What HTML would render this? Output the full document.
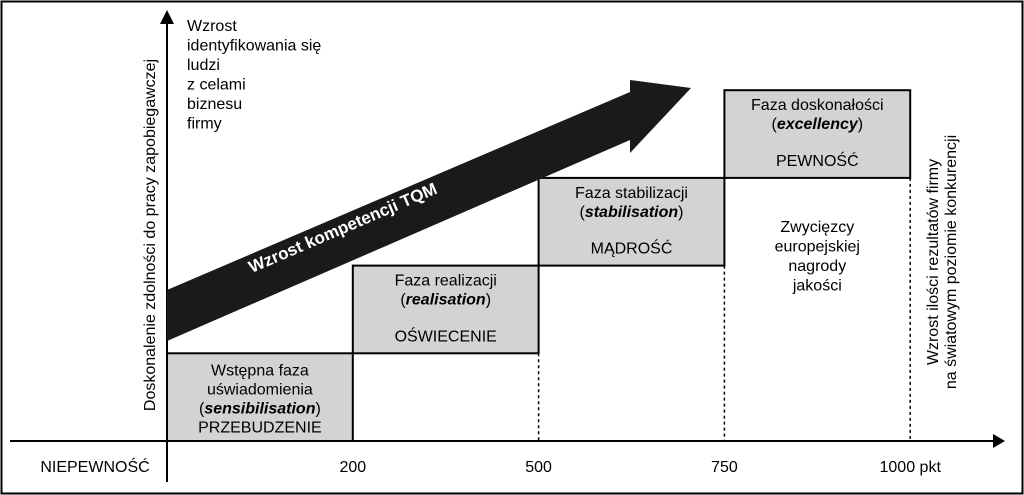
<!DOCTYPE html>
<html><head><meta charset="utf-8"><style>
html,body{margin:0;padding:0;background:#fff}
svg{display:block;font-family:"Liberation Sans",Arial,sans-serif}
</style></head><body>
<svg width="1024" height="495" viewBox="0 0 1024 495">
<rect x="1.5" y="1.5" width="1021" height="492" fill="#fff" stroke="#000" stroke-width="2"/>
<g id="plot"></g>
</svg>
<script>
const tickLabels = ["200", "500", "750", "1000 pkt"];
const phaseLevels = [1, 2, 3, 4];
const phaseTitles = [["Wstępna faza","uświadomienia"],["Faza realizacji"],["Faza stabilizacji"],["Faza doskonałości"]];
const phaseEnglish = ["sensibilisation","realisation","stabilisation","excellency"];
const phaseStates = ["PRZEBUDZENIE","OŚWIECENIE","MĄDROŚĆ","PEWNOŚĆ"];

const NS="http://www.w3.org/2000/svg";
const g=document.getElementById('plot');
const x0=167, colW=185.8, y0=441, rowH=87.7;
const xs=i=>x0+i*colW;
const ys=l=>y0-l*rowH;
function mk(tag,attrs,parent){const e=document.createElementNS(NS,tag);for(const k in attrs)e.setAttribute(k,attrs[k]);(parent||g).appendChild(e);return e;}
function txt(x,y,s,opt){const t=mk('text',Object.assign({x:x,y:y,'font-size':16,'text-anchor':'middle',fill:'#000'},opt||{}));t.textContent=s;return t;}

// phase boxes
phaseLevels.forEach((lv,i)=>{
  const bx=xs(i), by=ys(lv), bh=ys(lv-1)-ys(lv);
  const r=mk('rect',{x:bx,y:by,width:colW,height:bh,fill:'#d3d3d3',stroke:'#000','stroke-width':2});
  
  
  const cx=bx+colW/2;
  const titles=phaseTitles[i];
  let ty= i===0 ? by+22 : by+20;
  titles.forEach(s=>{const t=txt(cx,ty,s);ty+=19;});
  const t2=mk('text',{x:cx,y:ty,'font-size':16,'text-anchor':'middle'});
  
  
  t2.appendChild(document.createTextNode('('));
  const b=mk('tspan',{'font-weight':'bold','font-style':'italic'},t2);b.textContent=phaseEnglish[i];
  t2.appendChild(document.createTextNode(')'));
  const sy= i===0 ? ty+19 : by+bh-12;
  const t3=txt(cx,sy,phaseStates[i]);
  
  
  // dotted line down from right edge
  if(i>0){
    const d=mk('line',{x1:bx+colW,y1:by+bh,x2:bx+colW,y2:y0,stroke:'#000','stroke-width':1.5,'stroke-dasharray':'3,3'});
    
    
  }
});
// ticks
tickLabels.forEach((s,i)=>{const t=txt(xs(i+1),472,s);});
const nl=txt(95,472,"NIEPEWNOŚĆ");



// axes
const xa=mk('line',{x1:10,y1:y0,x2:995,y2:y0,stroke:'#000','stroke-width':2});

mk('polygon',{points:'993,434 1005,441 993,448',fill:'#000'});
const ya=mk('line',{x1:x0,y1:482,x2:x0,y2:22,stroke:'#000','stroke-width':2});

mk('polygon',{points:'160,24 167,10 174,24',fill:'#000'});

// top-left text
["Wzrost","identyfikowania się","ludzi","z celami","biznesu","firmy"].forEach((s,i)=>{const t=txt(187,31+i*19.5,s,{'text-anchor':'start'});});

// y axis title
const yt=txt(0,0,"Doskonalenie zdolności do pracy zapobiegawczej",{transform:'translate(155,235) rotate(-90)'});

// right title
const r1=txt(0,0,"Wzrost ilości rezultatów firmy",{transform:'translate(938,262) rotate(-90)'});

const r2=txt(0,0,"na światowym poziomie konkurencji",{transform:'translate(956,262) rotate(-90)'});


// winners text
["Zwycięzcy","europejskiej","nagrody","jakości"].forEach((s,i)=>{const t=txt(xs(3)+colW/2,232+i*19.5,s);});

// big arrow
const ar=mk('polygon',{points:'167,290 630,92 630,80 691,88 630,153 630,140 167,341',fill:'#1a1a1a'});

const at=txt(0,0,"Wzrost kompetencji TQM",{transform:'translate(345,233) rotate(-23.3)',fill:'#fff','font-weight':'bold','font-size':17});

</script>
</body></html>
